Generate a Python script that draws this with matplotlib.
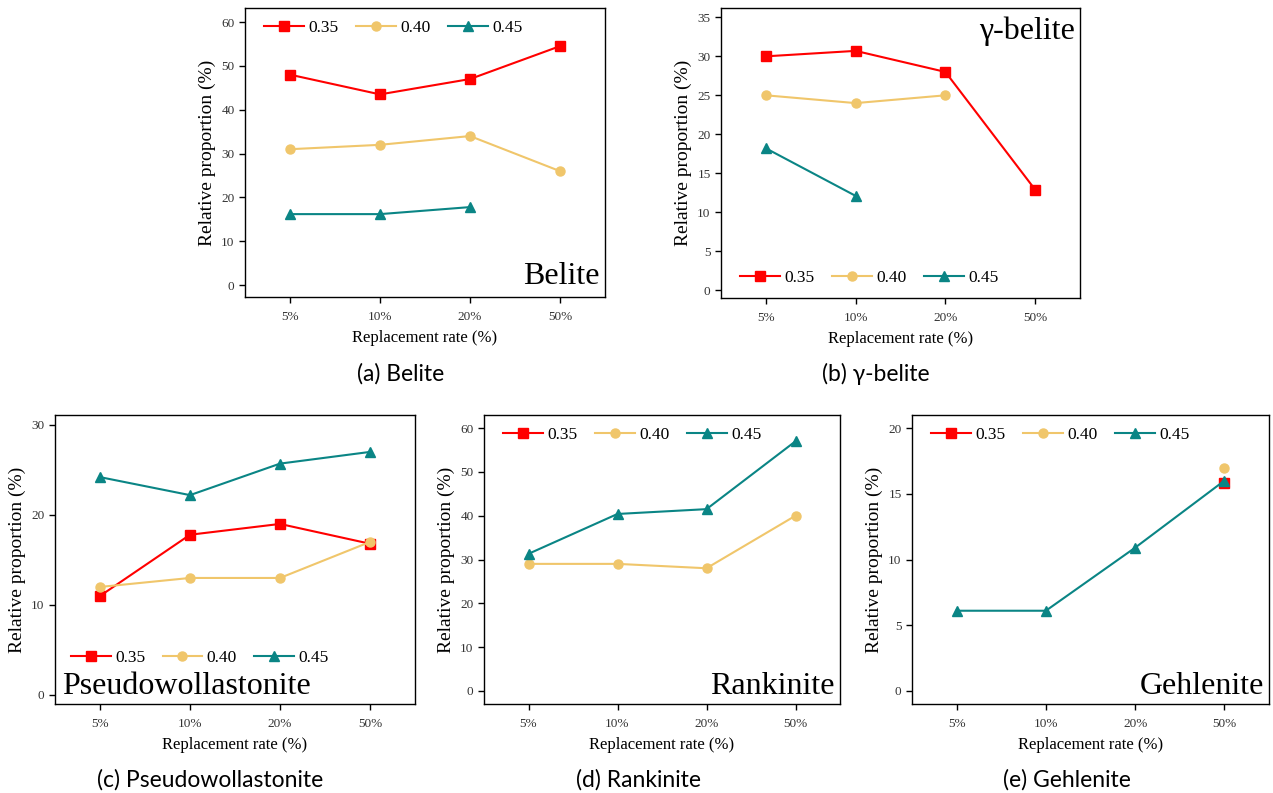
import numpy as np
import matplotlib
matplotlib.use("Agg")
import matplotlib.pyplot as plt

# --- data ---
rates = ["5%", "10%", "20%", "50%"]
wb_labels = ["0.35", "0.40", "0.45"]

belite_035 = [48, 43.5, 47, 54.5]
belite_040 = [31, 32, 34, 26]
belite_045 = [16.2, 16.2, 17.8, np.nan]

gbelite_035 = [30, 30.7, 28, 12.9]
gbelite_040 = [25, 24, 25, np.nan]
gbelite_045 = [18.2, 12.1, np.nan, np.nan]

pseudo_035 = [11, 17.8, 19, 16.8]
pseudo_040 = [12, 13, 13, 17]
pseudo_045 = [24.2, 22.2, 25.7, 27]

rank_035 = [np.nan, np.nan, np.nan, np.nan]
rank_040 = [29, 29, 28, 40]
rank_045 = [31.3, 40.4, 41.5, 57]

gehl_035 = [np.nan, np.nan, np.nan, 15.8]
gehl_040 = [np.nan, np.nan, np.nan, 17]
gehl_045 = [6.1, 6.1, 10.9, 16]

colors = ["#ff0000", "#f0c66b", "#0a8585"]
markers = ["s", "o", "^"]

plt.rcParams["font.family"] = ["Liberation Serif", "DejaVu Serif"]

W, H = 1273, 793
fig = plt.figure(figsize=(W / 100, H / 100), dpi=100)


def px_axes(left, top, right, bottom):
    return fig.add_axes([left / W, 1 - bottom / H, (right - left) / W, (bottom - top) / H])


def panel(ax, series, ylim, yticks, name, name_pos, leg_kw):
    x = np.arange(len(rates))
    for vals, c, m, lab in zip(series, colors, markers, wb_labels):
        ax.plot(x, vals, color=c, marker=m, markersize=6.5, linewidth=1.5, label=lab)
    ax.set_xlim(-0.5, 3.5)
    ax.set_ylim(*ylim)
    ax.set_yticks(yticks)
    ax.set_xticks(x)
    ax.set_xticklabels(rates)
    ax.tick_params(axis="both", direction="out", length=4, width=1, labelsize=9.5,
                   labelcolor="#333333", top=False, right=False)
    ax.tick_params(axis="x", pad=6)
    for s in ax.spines.values():
        s.set_linewidth(1)
    ax.set_xlabel("Replacement rate (%)", fontsize=12, labelpad=5)
    ax.set_ylabel("Relative proportion (%)", fontsize=14, labelpad=4)
    tx, ty, ha, va = name_pos
    ax.text(tx, ty, name, transform=ax.transAxes, ha=ha, va=va, fontsize=23)
    ax.legend(ncol=3, frameon=False, fontsize=12.5, handlelength=2.3,
              handletextpad=0.25, columnspacing=1.0, borderaxespad=0.3, **leg_kw)


ax_a = px_axes(245, 8, 605, 297)
panel(ax_a, [belite_035, belite_040, belite_045], (-2.7, 63.2), range(0, 61, 10),
      "Belite", (0.985, 0.02, "right", "bottom"),
      dict(loc="upper left", bbox_to_anchor=(0.02, 1)))

ax_b = px_axes(721, 8, 1080, 298)
panel(ax_b, [gbelite_035, gbelite_040, gbelite_045], (-1.0, 36.2), range(0, 36, 5),
      "\u03b3-belite", (0.985, 0.97, "right", "top"),
      dict(loc="lower left", bbox_to_anchor=(0.02, 0)))

ax_c = px_axes(55, 415, 415, 704)
panel(ax_c, [pseudo_035, pseudo_040, pseudo_045], (-1.0, 31.1), range(0, 31, 10),
      "Pseudowollastonite", (0.02, 0.01, "left", "bottom"),
      dict(loc="lower left", bbox_to_anchor=(0.01, 0.09)))

ax_d = px_axes(484, 415, 840, 704)
panel(ax_d, [rank_035, rank_040, rank_045], (-3.0, 63.0), range(0, 61, 10),
      "Rankinite", (0.985, 0.01, "right", "bottom"),
      dict(loc="upper left", bbox_to_anchor=(0.02, 1)))

ax_e = px_axes(912, 415, 1269, 704)
panel(ax_e, [gehl_035, gehl_040, gehl_045], (-1.0, 21.0), range(0, 21, 5),
      "Gehlenite", (0.985, 0.01, "right", "bottom"),
      dict(loc="upper left", bbox_to_anchor=(0.02, 1)))

# sub-figure captions
captions = [("(a) Belite", 401, 374), ("(b) \u03b3-belite", 876, 374),
            ("(c) Pseudowollastonite", 210, 780), ("(d) Rankinite", 638, 780),
            ("(e) Gehlenite", 1067, 780)]
for txt, cx, cy in captions:
    fig.text(cx / W, 1 - cy / H, txt, ha="center", va="center", fontsize=16.5,
             family=["Lato", "DejaVu Sans"])

fig.savefig("out.png", dpi=100)
